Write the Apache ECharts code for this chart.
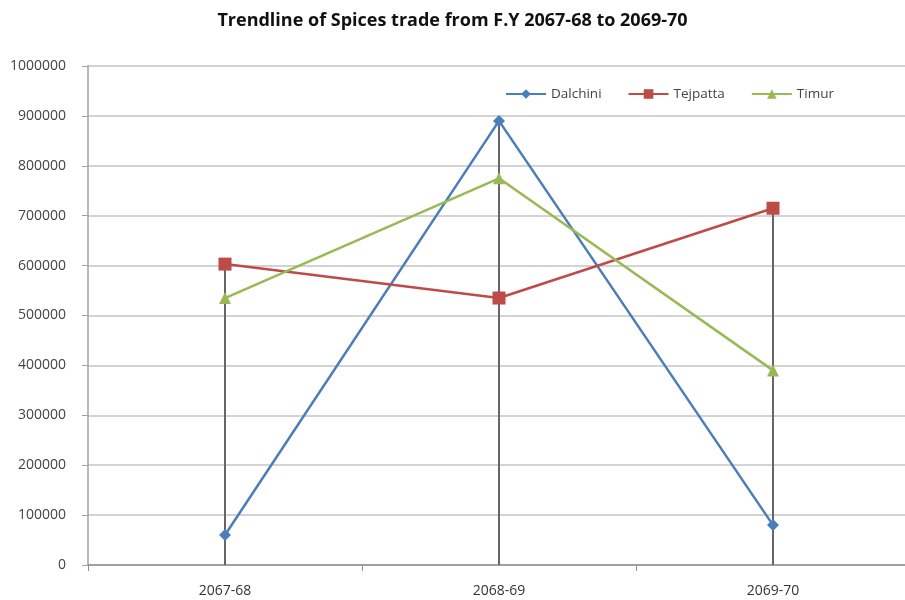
<!DOCTYPE html>
<html>
<head>
<meta charset="utf-8">
<script src="https://cdn.jsdelivr.net/npm/echarts@6/dist/echarts.min.js"></script>
<style>
  html, body { margin: 0; padding: 0; background: #fff; }
  #chart { width: 905px; height: 600px; }
</style>
</head>
<body>
<div id="chart"></div>
<script>
// data
const years = ['2067-68', '2068-69', '2069-70']
const dalchini = [60000, 890000, 80000]
const tejpatta = [603000, 535000, 715000]
const timur = [535000, 775000, 390000]
const yTicks = [0, 100000, 200000, 300000, 400000, 500000, 600000, 700000, 800000, 900000, 1000000]

// drop lines go from the highest point of each year down to the axis
const dropLines = years.map((y, i) => Math.max(dalchini[i], tejpatta[i], timur[i]))

const chart = echarts.init(document.getElementById('chart'))

const lineSeries = (name, data, color, symbol, size) => ({
  name: name,
  type: 'line',
  data: data,
  symbol: symbol,
  symbolSize: size,
  z: 3,
  lineStyle: { color: color, width: 2.5 },
  itemStyle: { color: color },
  emphasis: { disabled: true }
})

chart.setOption({
  animation: false,
  title: {
    text: 'Trendline of Spices trade from F.Y 2067-68 to 2069-70',
    left: 'center',
    top: 7,
    textStyle: { fontFamily: 'Open Sans', fontSize: 18, fontWeight: 'bold', color: '#111' }
  },
  legend: {
    data: ['Dalchini', 'Tejpatta', 'Timur'],
    left: 500,
    top: 82,
    itemWidth: 40,
    itemHeight: 12,
    itemGap: 26,
    textStyle: { fontFamily: 'Open Sans', fontSize: 13.5, color: '#444' }
  },
  grid: {
    left: 88,
    right: -5,
    top: 66,
    bottom: 35,
    outerBoundsMode: 'none'
  },
  xAxis: {
    type: 'category',
    data: years,
    axisLine: { lineStyle: { color: '#909090', width: 1.5 } },
    axisTick: { show: true, length: 6, lineStyle: { color: '#909090' } },
    axisLabel: { margin: 19, fontFamily: 'Open Sans', fontSize: 14, color: '#333' },
    splitLine: { show: false }
  },
  yAxis: {
    type: 'value',
    min: yTicks[0],
    max: yTicks[yTicks.length - 1],
    interval: 100000,
    axisLine: { show: true, lineStyle: { color: '#a0a0a0', width: 1.5 } },
    axisTick: { show: true, length: 6, lineStyle: { color: '#a0a0a0' } },
    axisLabel: {
      margin: 22,
      fontFamily: 'Open Sans',
      fontSize: 14,
      color: '#444',
      formatter: v => String(v)
    },
    splitLine: { lineStyle: { color: '#c4c4c4', width: 1.5 } }
  },
  series: [
    {
      name: 'drop',
      type: 'bar',
      data: dropLines,
      barWidth: 2,
      silent: true,
      z: 1,
      itemStyle: { color: '#666666' }
    },
    lineSeries('Dalchini', dalchini, '#4a7ebb', 'diamond', 12),
    lineSeries('Tejpatta', tejpatta, '#be4b48', 'rect', 13),
    lineSeries('Timur', timur, '#98b954', 'triangle', 12)
  ]
})
</script>
</body>
</html>
